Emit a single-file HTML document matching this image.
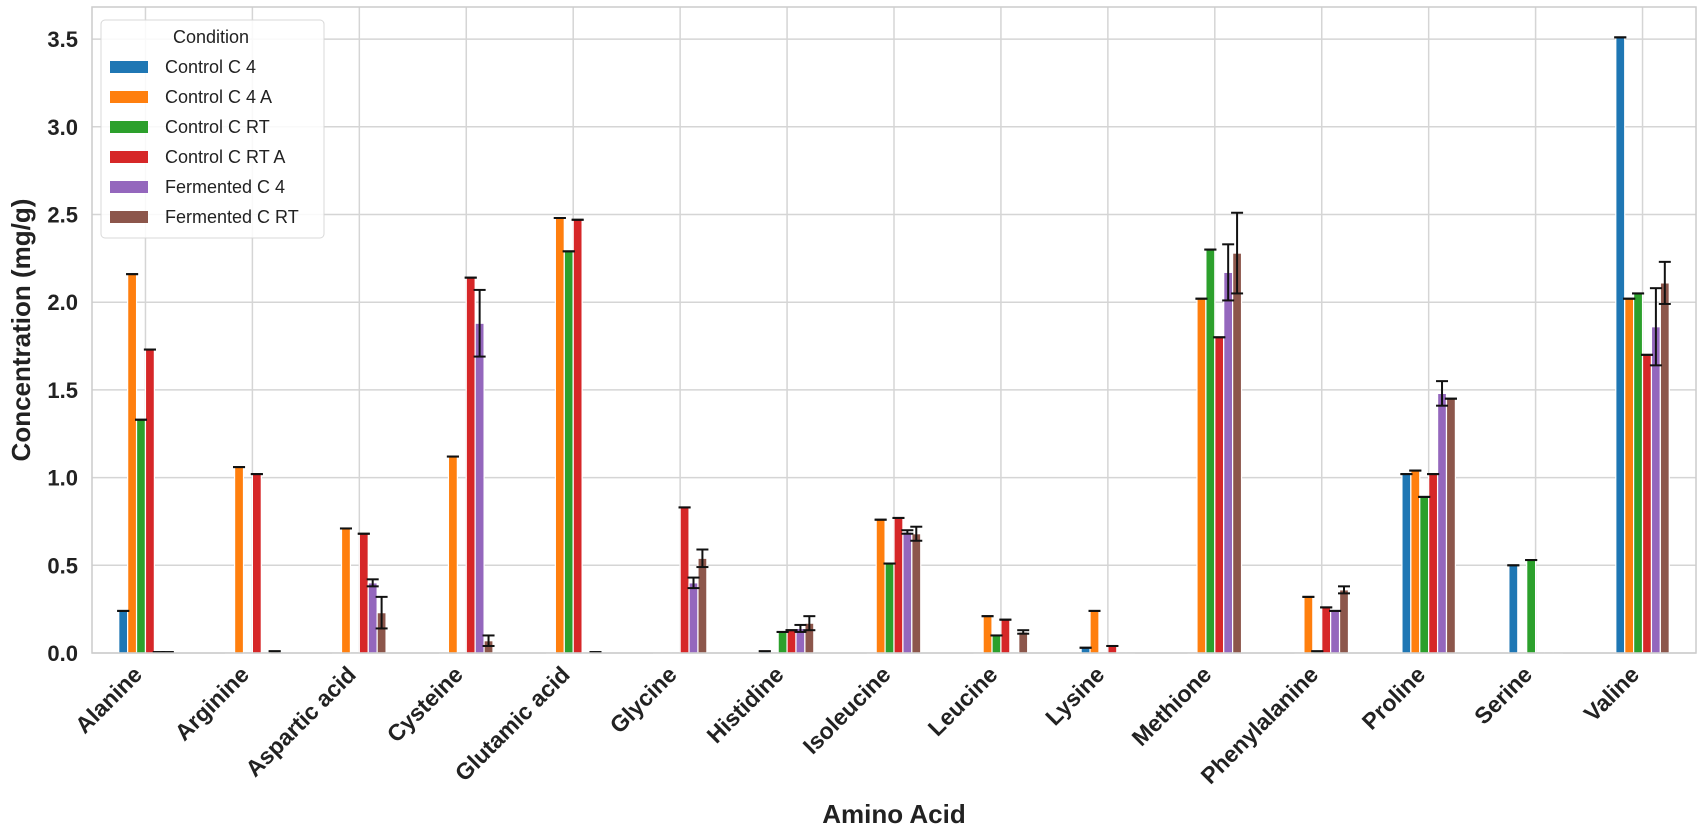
<!DOCTYPE html>
<html><head><meta charset="utf-8"><style>
body{margin:0;background:#fff;}
svg{display:block;font-family:"Liberation Sans",Arial,sans-serif;}
</style></head><body>
<svg id="chart" width="1707" height="831" viewBox="0 0 1707 831" xmlns="http://www.w3.org/2000/svg">
<rect x="0" y="0" width="1707" height="831" fill="#fff"/>
<g id="grid"></g>
<g id="bars"></g>
<g id="errs"></g>
<rect x="92" y="7" width="1604" height="646" fill="none" stroke="#cccccc" stroke-width="1.5"/>
<g id="yticks"></g>
<g id="xticks"></g>
<text x="30" y="330" transform="rotate(-90 30 330)" text-anchor="middle" font-size="26" font-weight="bold" fill="#222">Concentration (mg/g)</text>
<text x="894" y="823" text-anchor="middle" font-size="26" font-weight="bold" fill="#222">Amino Acid</text>
<g id="legend">
<rect x="101" y="20" width="223" height="218" rx="4" fill="#fff" fill-opacity="0.85" stroke="#d8d8d8"/>
<text x="211" y="43" text-anchor="middle" font-size="18" fill="#222">Condition</text>
</g>
</svg>
<script>
const categories=["Alanine","Arginine","Aspartic acid","Cysteine","Glutamic acid","Glycine","Histidine","Isoleucine","Leucine","Lysine","Methione","Phenylalanine","Proline","Serine","Valine"];
const seriesNames=["Control C 4","Control C 4 A","Control C RT","Control C RT A","Fermented C 4","Fermented C RT"];
const colors=["#1f77b4","#ff7f0e","#2ca02c","#d62728","#9467bd","#8c564b"];
const controlC4=[0.24,0,0,0,0,0,0.01,0,0,0.03,0,0,1.02,0.50,3.51];
const controlC4A=[2.16,1.06,0.71,1.12,2.48,0,0,0.76,0.21,0.24,2.02,0.32,1.04,0,2.02];
const controlCRT=[1.33,0,0,0,2.29,0,0.12,0.51,0.10,0,2.30,0.01,0.89,0.53,2.05];
const controlCRTA=[1.73,1.02,0.68,2.14,2.47,0.83,0.13,0.77,0.19,0.04,1.80,0.26,1.02,0,1.70];
const fermentedC4=[0.005,0,0.40,1.88,0,0.40,0.14,0.69,0,0,2.17,0.24,1.48,0,1.86];
const fermentedCRT=[0.005,0.01,0.23,0.07,0.005,0.54,0.17,0.68,0.12,0,2.28,0.36,1.45,0,2.11];
const errFermentedC4=[0,0,0.02,0.19,0,0.03,0.02,0.01,0,0,0.16,0,0.07,0,0.22];
const errFermentedCRT=[0,0,0.09,0.03,0,0.05,0.04,0.04,0.01,0,0.23,0.02,0,0,0.12];
const yTicks=[0,0.5,1,1.5,2,2.5,3,3.5];
const yTickLabels=["0.0","0.5","1.0","1.5","2.0","2.5","3.0","3.5"];

const series=[controlC4,controlC4A,controlCRT,controlCRTA,fermentedC4,fermentedCRT];
const errs=[null,null,null,null,errFermentedC4,errFermentedCRT];
const NS="http://www.w3.org/2000/svg";
const X0=92,X1=1696,Y0=653,PPU=175.4;
const step=(X1-X0)/categories.length;
const slot=step*0.5/6;
function xC(i){return X0+step*(i+0.5);}
function yS(v){return Y0-v*PPU;}
function mk(tag,attrs,parent){const e=document.createElementNS(NS,tag);for(const k in attrs)e.setAttribute(k,attrs[k]);parent.appendChild(e);return e;}
const grid=document.getElementById('grid');
yTicks.forEach((t,i)=>{
  const l=mk('line',{x1:X0,x2:X1,y1:yS(t),y2:yS(t),stroke:'#d5d5d5','stroke-width':1.5},grid);
  
  
  const tx=mk('text',{x:78,y:yS(t)+8,'text-anchor':'end','font-size':22,'font-weight':'bold',fill:'#222'},document.getElementById('yticks'));
  tx.textContent=yTickLabels[i];
  
  
});
categories.forEach((c,i)=>{
  const l=mk('line',{x1:xC(i),x2:xC(i),y1:7,y2:Y0,stroke:'#d5d5d5','stroke-width':1.5},grid);
  
  
  const tx=mk('text',{x:xC(i)-2,y:676,'text-anchor':'end','font-size':23,'font-weight':'bold',fill:'#222',transform:`rotate(-45 ${xC(i)-2} 676)`},document.getElementById('xticks'));
  tx.textContent=c;
  
  
});
const bars=document.getElementById('bars'),eg=document.getElementById('errs');
series.forEach((vals,s)=>{
  vals.forEach((v,i)=>{
    const cx=xC(i)+(s-2.5)*slot;
    const top=yS(v);
    const r=mk('rect',{x:cx-slot/2,y:top,width:slot,height:Math.max(Y0-top,0.5),fill:colors[s],stroke:'#fff','stroke-width':1.2},bars);
    
    
    const e=errs[s]?errs[s][i]:0;
    if(e>0){
      const vl=mk('line',{x1:cx,x2:cx,y1:yS(v+e),y2:yS(v-e),stroke:'#111','stroke-width':2},eg);
      
      
    }
    [v+e,v-e].forEach(ev=>{
      if(v===0&&ev<=0.001){return;}
      const cap=mk('line',{x1:cx-6,x2:cx+6,y1:yS(ev),y2:yS(ev),stroke:'#111','stroke-width':2},eg);
      
      
    });
  });
});
const lg=document.getElementById('legend');
seriesNames.forEach((n,s)=>{
  const y=67+s*30;
  const r=mk('rect',{x:110,y:y-6,width:38,height:12,fill:colors[s]},lg);
  
  
  const t=mk('text',{x:165,y:y+6,'font-size':18,fill:'#222'},lg);
  t.textContent=n;
  
  
});
</script>
</body></html>
